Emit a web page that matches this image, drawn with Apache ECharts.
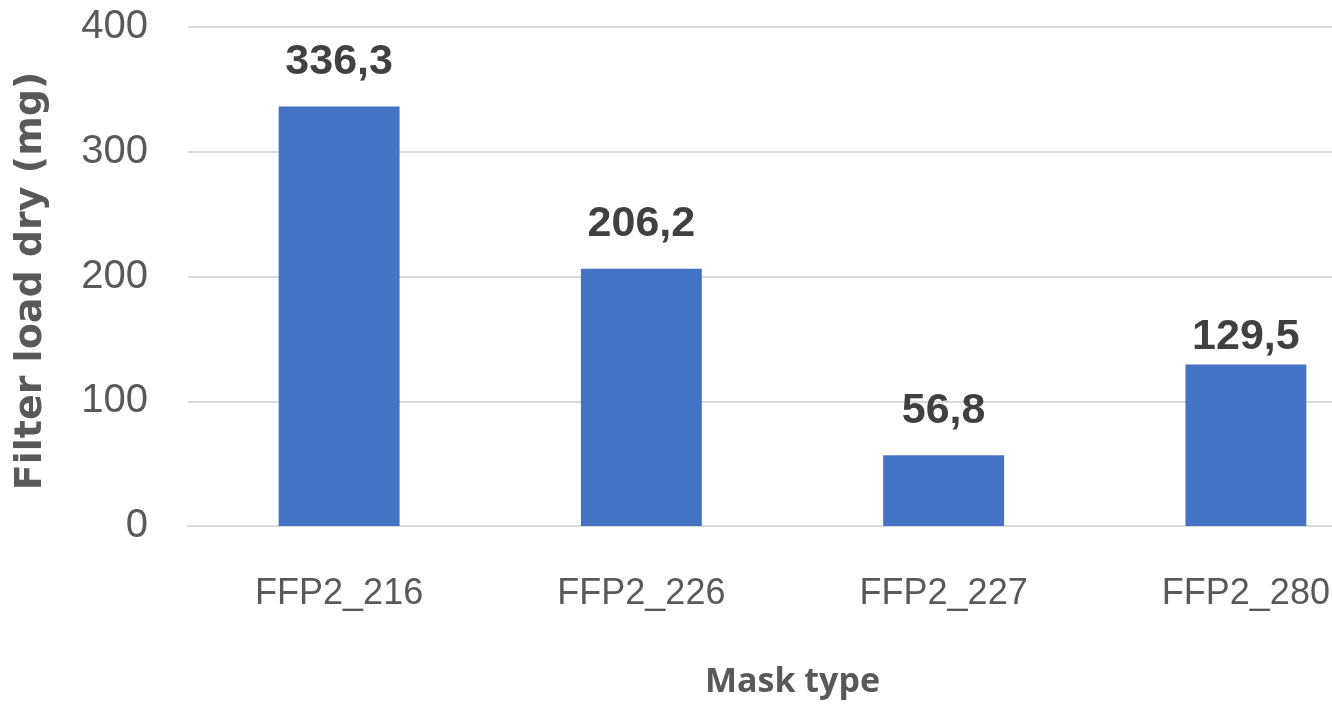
<!DOCTYPE html>
<html>
<head>
<meta charset="utf-8">
<script src="https://cdn.jsdelivr.net/npm/echarts@6/dist/echarts.min.js"></script>
<style>
html,body{margin:0;padding:0;background:#fff;}
#chart{width:1332px;height:711px;}
</style>
</head>
<body>
<div id="chart"></div>
<script>
const categories = ['FFP2_216', 'FFP2_226', 'FFP2_227', 'FFP2_280'];
const filterLoadDry = [336.3, 206.2, 56.8, 129.5];
const yTicks = [0, 100, 200, 300, 400];
const xTitle = 'Mask type';
const yTitle = 'Filter load dry (mg)';

const narrow = '"Liberation Sans", Arial, sans-serif';

const chart = echarts.init(document.getElementById('chart'), null, {renderer: 'canvas'});
chart.setOption({
  animation: false,
  backgroundColor: '#ffffff',
  grid: {left: 188, width: 1209, top: 27, height: 499, containLabel: false, outerBoundsMode: 'none'},
  xAxis: {
    type: 'category',
    data: categories,
    name: xTitle,
    nameLocation: 'middle',
    nameGap: 139,
    nameTextStyle: {fontFamily: '"Open Sans", sans-serif', fontWeight: 'bold', fontSize: 34, color: '#595959'},
    axisLine: {show: true, lineStyle: {color: '#d9d9d9', width: 2}},
    axisTick: {show: false},
    axisLabel: {margin: 50, fontFamily: narrow, fontSize: 36, color: '#595959'}
  },
  yAxis: {
    type: 'value',
    min: yTicks[0],
    max: yTicks[yTicks.length - 1],
    interval: yTicks[1] - yTicks[0],
    name: yTitle,
    nameLocation: 'middle',
    nameGap: 138,
    nameRotate: 90,
    nameTextStyle: {fontFamily: '"DejaVu Sans", sans-serif', fontWeight: 'bold', fontSize: 38, color: '#595959', padding: [0, 9, 0, 0]},
    axisLine: {show: false},
    axisTick: {show: false},
    axisLabel: {margin: 40, fontFamily: narrow, fontSize: 40, color: '#595959'},
    splitLine: {lineStyle: {color: '#d9d9d9', width: 2}}
  },
  series: [{
    type: 'bar',
    barWidth: '40%',
    itemStyle: {color: '#4472c4'},
    label: {
      show: true,
      position: 'top',
      distance: 23,
      fontFamily: narrow,
      fontWeight: 'bold',
      fontSize: 43,
      color: '#404040',
      formatter: p => p.value.toFixed(1).replace('.', ',')
    },
    data: filterLoadDry.map((v, i) => i === 3 ? {value: v, label: {distance: 6}} : v)
  }]
});
</script>
</body>
</html>
